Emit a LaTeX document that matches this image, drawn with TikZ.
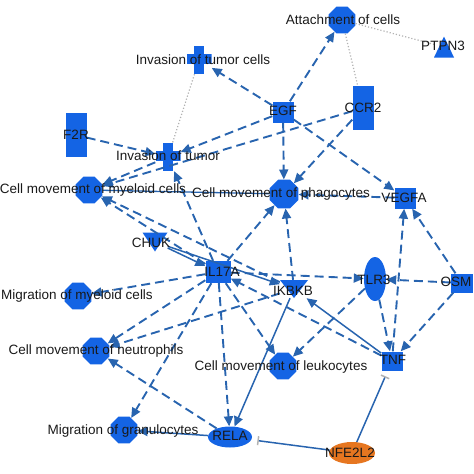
\documentclass[tikz,border=0pt]{standalone}
\usepackage{fontspec}
\setmainfont{Liberation Sans}
\usetikzlibrary{shapes.geometric,arrows.meta}
\definecolor{nodeblue}{RGB}{20,100,228}
\definecolor{edgeblue}{RGB}{40,100,175}
\definecolor{nforange}{RGB}{230,118,32}
\definecolor{labelgray}{RGB}{25,25,25}
\begin{document}
\begin{tikzpicture}[x=1pt,y=-1pt,
  octnode/.style={regular polygon, regular polygon sides=8, minimum size=29pt, inner sep=0pt, fill=nodeblue},
  sqnode/.style={rectangle, minimum width=21pt, minimum height=21pt, inner sep=0pt, fill=nodeblue},
  tallnode/.style={rectangle, minimum width=21pt, minimum height=44pt, inner sep=0pt, fill=nodeblue},
  ellnode/.style={ellipse, inner sep=0pt, fill=nodeblue},
  crossnode/.style={rectangle, minimum width=25pt, minimum height=28pt, inner sep=0pt,
    path picture={\fill[nodeblue] ([xshift=-5pt]path picture bounding box.north) rectangle ([xshift=5pt]path picture bounding box.south);
      \fill[nodeblue] ([yshift=6pt]path picture bounding box.west) rectangle ([yshift=-4pt]path picture bounding box.east);}},
  uptri/.style={rectangle, inner sep=0pt,
    path picture={\fill[nodeblue] (path picture bounding box.south west) -- (path picture bounding box.south east) -- (path picture bounding box.north) -- cycle;}},
  downtri/.style={rectangle, inner sep=0pt,
    path picture={\fill[nodeblue] (path picture bounding box.north west) -- (path picture bounding box.north east) -- (path picture bounding box.south) -- cycle;}},
  lab/.style={inner sep=0pt, text=labelgray, font=\fontsize{13.5}{16}\selectfont, text height=9.8pt, text depth=2.8pt, anchor=center},
  act/.style={draw=edgeblue, line width=1.9pt, dash pattern=on 9pt off 5pt, -{Triangle[length=10pt,width=9pt]}},
  sact/.style={draw=edgeblue, line width=1.5pt, -{Triangle[length=10pt,width=9pt]}},
  sline/.style={draw=edgeblue, line width=1.3pt},
  inh/.style={draw=edgeblue, line width=1.5pt, -{Bar[width=9pt,color=gray!60,line width=1.5pt]}, shorten >=6pt},
  dotl/.style={draw=gray!60, line width=1.2pt, dotted}
]
\useasboundingbox (0,0) rectangle (474,474);

% shapes
\node[octnode] (attach) at (342,20) {};
\node[uptri, minimum width=20pt, minimum height=21pt] (ptpn3) at (444,47) {};
\node[crossnode] (invtc) at (199,60) {};
\node[sqnode] (egf) at (283,112) {};
\node[tallnode] (ccr2) at (363,108) {};
\node[tallnode] (f2r) at (76,135) {};
\node[crossnode] (invt) at (168,157) {};
\node[octnode] (myelo) at (89,190) {};
\node[octnode, minimum size=31pt] (phago) at (284,194) {};
\node[sqnode] (vegfa) at (405,198) {};
\node[downtri, minimum width=25pt, minimum height=19pt] (chuk) at (155,242) {};
\node[sqnode, minimum width=25pt, minimum height=22pt] (il17a) at (218,272) {};
\node[octnode] (migmy) at (78,296) {};
\node[downtri, minimum width=28pt, minimum height=18pt] (ikbkb) at (294,289) {};
\node[ellnode, minimum width=22pt, minimum height=44pt] (tlr3) at (375,279) {};
\node[sqnode, minimum width=22pt, minimum height=19pt] (osm) at (462,283) {};
\node[octnode] (neutro) at (96,351) {};
\node[octnode] (leuko) at (283,366) {};
\node[sqnode, minimum width=21pt, minimum height=19pt] (tnf) at (392,361) {};
\node[octnode] (granu) at (124,430) {};
\node[ellnode, minimum width=44pt, minimum height=21pt] (rela) at (230,437) {};
\node[ellipse, inner sep=0pt, fill=nforange, minimum width=46pt, minimum height=22pt] (nfe2l2) at (352,453) {};

% dotted relations
\draw[dotl] (attach) -- (ptpn3);
\draw[dotl] (attach) -- (ccr2);
\draw[dotl] (invtc) -- (invt);

% dashed activations
\draw[act] (egf) -- (attach);
\draw[act] (egf) -- (invtc);
\draw[act] (egf) -- (invt);
\draw[act] (egf) -- (phago);
\draw[act] (egf) -- (vegfa);
\draw[act] (ccr2) -- (myelo);
\draw[act] (ccr2) -- (phago);
\draw[act] (f2r) -- (invt);
\draw[act] (invt) -- (myelo);
\draw[act] (il17a) -- (myelo);
\draw[act] (ikbkb) -- (myelo);
\draw[act] (il17a) -- (invt);
\draw[act] (il17a) -- (phago);
\draw[act] (ikbkb) -- (phago);
\draw[act] (vegfa) -- (phago);
\draw[act] (il17a) -- (migmy);
\draw[act] (il17a) -- (neutro);
\draw[act] (il17a) -- (granu);
\draw[act] (il17a) -- (rela);
\draw[act] (il17a) -- (leuko);
\draw[act] (il17a) -- (tlr3);
\draw[act] (ikbkb) -- (neutro);
\draw[act] (rela) -- (neutro);
\draw[act] (tnf) -- (il17a);
\draw[act] (tlr3) -- (tnf);
\draw[act] (tlr3) -- (leuko);
\draw[act] (osm) -- (tlr3);
\draw[act] (osm) -- (tnf);
\draw[act] (osm) -- (vegfa);
\draw[act] (tnf) -- (vegfa);

% solid relations
\draw[sact] (chuk) -- (il17a);
\draw[sact] (chuk) -- (ikbkb);
\draw[sact] (tnf) -- (ikbkb);
\draw[sact] (ikbkb) -- (rela);
\draw[sact] (rela) -- (granu);
\draw[sline] (myelo) -- (phago);

% inhibitions
\draw[inh] (nfe2l2) -- (rela);
\draw[inh] (nfe2l2) -- (tnf);

% labels
\node[lab] (attach-t) at (343,21) {Attachment of cells};
\node[lab] (ptpn3-t) at (443,47) {PTPN3};
\node[lab] (invtc-t) at (203,61) {Invasion of tumor cells};
\node[lab] (egf-t) at (283,112) {EGF};
\node[lab] (ccr2-t) at (363,109) {CCR2};
\node[lab] (f2r-t) at (76,136) {F2R};
\node[lab] (invt-t) at (168,157) {Invasion of tumor};
\node[lab] (myelo-t) at (93,190) {Cell movement of myeloid cells};
\node[lab] (phago-t) at (281,194) {Cell movement of phagocytes};
\node[lab] (vegfa-t) at (404,199) {VEGFA};
\node[lab] (chuk-t) at (151,244) {CHUK};
\node[lab] (il17a-t) at (222,273) {IL17A};
\node[lab] (migmy-t) at (77,296) {Migration of myeloid cells};
\node[lab] (ikbkb-t) at (293,292) {IKBKB};
\node[lab] (tlr3-t) at (374,281) {TLR3};
\node[lab] (osm-t) at (456,283) {OSM};
\node[lab] (neutro-t) at (96,351) {Cell movement of neutrophils};
\node[lab] (leuko-t) at (281,367) {Cell movement of leukocytes};
\node[lab] (tnf-t) at (393,361) {TNF};
\node[lab] (granu-t) at (123,431) {Migration of granulocytes};
\node[lab] (rela-t) at (230,437) {RELA};
\node[lab] (nfe2l2-t) at (350,454) {NFE2L2};
\end{tikzpicture}
\end{document}
